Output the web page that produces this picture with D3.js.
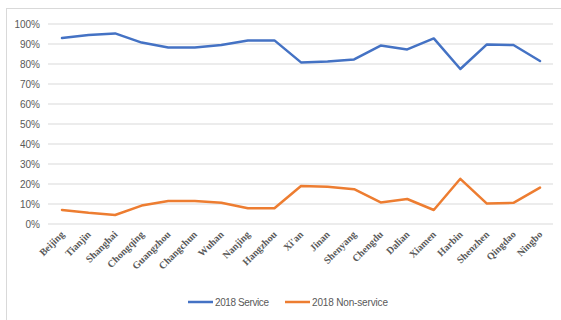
<!DOCTYPE html>
<html>
<head>
<meta charset="utf-8">
<script src="https://cdn.jsdelivr.net/npm/d3@7"></script>
<style>
	body { margin: 0; background: #fff; }
	svg { display: block; }
</style>
</head>
<body>
<svg id="chart"></svg>
<script>
const WIDTH = 561;
const HEIGHT = 320;

const cities = ["Beijing", "Tianjin", "Shanghai", "Chongqing", "Guangzhou", "Changchun",
	"Wuhan", "Nanjing", "Hangzhou", "Xi'an", "Jinan", "Shenyang", "Chengdu", "Dalian",
	"Xiamen", "Harbin", "Shenzhen", "Qingdao", "Ningbo"];
const serviceValues = [93, 94.5, 95.3, 90.7, 88.3, 88.3, 89.5, 91.8, 91.8, 80.8, 81.3,
	82.3, 89.2, 87.3, 92.8, 77.5, 89.8, 89.5, 81.5];
const nonServiceValues = [7, 5.6, 4.5, 9.2, 11.5, 11.5, 10.6, 7.9, 7.9, 19, 18.6,
	17.4, 10.8, 12.5, 7, 22.6, 10.2, 10.6, 18.2];
const yTicks = [0, 10, 20, 30, 40, 50, 60, 70, 80, 90, 100];
const seriesNames = ["2018 Service", "2018 Non-service"];
const seriesColors = ["#4472C4", "#ED7D31"];

const svg = d3.select("#chart").attr("width", WIDTH).attr("height", HEIGHT);

// outer frame (only top and left edges are visible in the crop)
svg.append("rect")
	.attr("x", 6.5).attr("y", 8.5)
	.attr("width", 600).attr("height", 400)
	.attr("fill", "none")
	.attr("stroke", "#d9d9d9");

const plotLeft = 48;
const plotRight = 553;
const xScale = d3.scalePoint(cities, [62, 540]);
const yScale = d3.scaleLinear([0, 100], [224, 24]);

// gridlines
svg.append("g")
	.selectAll("line")
	.data(yTicks)
	.join("line")
	.attr("x1", plotLeft)
	.attr("x2", plotRight)
	.attr("y1", d => yScale(d))
	.attr("y2", d => yScale(d))
	.attr("stroke", "#d9d9d9")
	.attr("stroke-width", 1);

// y labels
svg.append("g")
	.selectAll("text")
	.data(yTicks)
	.join("text")
	.attr("x", 40)
	.attr("y", d => yScale(d))
	.attr("dy", "0.35em")
	.attr("text-anchor", "end")
	.attr("font-family", "'Liberation Sans', Arial, sans-serif")
	.attr("font-size", 10)
	.attr("fill", "#595959")
	.text(d => d + "%");

// x labels, rotated
svg.append("g")
	.selectAll("text")
	.data(cities)
	.join("text")
	.attr("transform", d => `translate(${xScale(d) + 3},${235}) rotate(-45)`)
	.attr("text-anchor", "end")
	.attr("font-family", "'Liberation Serif', 'Times New Roman', serif")
	.attr("font-weight", "bold")
	.attr("font-size", 10)
	.attr("fill", "#595959")
	.text(d => d);

const line = d3.line()
	.x((d, i) => xScale(cities[i]))
	.y(d => yScale(d));

[serviceValues, nonServiceValues].forEach((vals, k) => {
	svg.append("path")
		.datum(vals)
		.attr("d", line)
		.attr("fill", "none")
		.attr("stroke", seriesColors[k])
		.attr("stroke-width", 2.5)
		.attr("stroke-linejoin", "round")
		.attr("stroke-linecap", "round");
});

// legend
const legendX = [188, 285];
const legend = svg.append("g")
	.selectAll("g")
	.data(seriesNames)
	.join("g")
	.attr("transform", (d, i) => `translate(${legendX[i]},302)`);

legend.append("line")
	.attr("x1", 0).attr("x2", 25)
	.attr("stroke", (d, i) => seriesColors[i])
	.attr("stroke-width", 2.5);

legend.append("text")
	.attr("x", 27)
	.attr("dy", "0.35em")
	.attr("font-family", "'Liberation Sans', Arial, sans-serif")
	.attr("font-size", 10)
	.attr("textLength", (d, i) => [54, 76][i])
	.attr("fill", "#595959")
	.text(d => d);
</script>
</body>
</html>
